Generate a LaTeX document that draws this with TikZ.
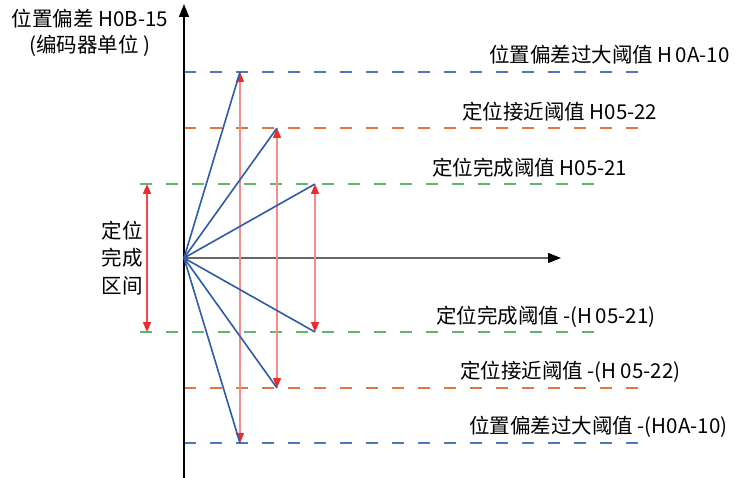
\documentclass[tikz,border=0pt]{standalone}
\usepackage{fontspec}
\setmainfont{Noto Sans CJK SC}
\usetikzlibrary{arrows.meta}
\definecolor{solidblue}{HTML}{2E5AA8}
\definecolor{dblue}{HTML}{4A78C0}
\definecolor{dorange}{HTML}{E2763A}
\definecolor{dgreen}{HTML}{5DB86A}
\definecolor{rline}{HTML}{F08C8C}
\definecolor{rtip}{HTML}{EE2A2A}
\definecolor{axisgray}{HTML}{666666}
\tikzset{
  thr/.style={dash pattern=on 12pt off 14pt, line width=1.3pt},
  ray/.style={solidblue, line width=1.6pt},
  span/.style={rline, line width=1.4pt, {Triangle[length=10pt,width=8pt,color=rtip]}-{Triangle[length=10pt,width=8pt,color=rtip]}},
  lbl/.style={anchor=west, inner sep=0pt, font=\fontsize{20.5}{27.5}\selectfont},
}
\begin{document}
\begin{tikzpicture}[x=1pt,y=-1pt]
\useasboundingbox[fill=white] (0,0) rectangle (738,478);
% key points
\coordinate (O) at (184,258);
\coordinate (ytop) at (184,4);
\coordinate (ybot) at (184,478);
\coordinate (xend) at (561,258);
\coordinate (P1) at (240,72);
\coordinate (P2) at (277,128);
\coordinate (P3) at (315,184);
\coordinate (P4) at (315,332);
\coordinate (P5) at (277,388);
\coordinate (P6) at (240,443);
\coordinate (L1) at (147,184);
\coordinate (L2) at (147,332);
% threshold lines
\coordinate (b1s) at (184,72);  \coordinate (b1e) at (645,72);
\coordinate (o1s) at (184,128); \coordinate (o1e) at (645,128);
\coordinate (g1s) at (140,184); \coordinate (g1e) at (600,184);
\coordinate (g2s) at (140,332); \coordinate (g2e) at (600,332);
\coordinate (o2s) at (184,388); \coordinate (o2e) at (645,388);
\coordinate (b2s) at (184,443); \coordinate (b2e) at (645,443);
\draw[thr, dblue] (b1s) -- (b1e);
\draw[thr, dorange] (o1s) -- (o1e);
\draw[thr, dgreen] (g1s) -- (g1e);
\draw[thr, dgreen] (g2s) -- (g2e);
\draw[thr, dorange] (o2s) -- (o2e);
\draw[thr, dblue] (b2s) -- (b2e);
% axes
\draw[axisgray, line width=1.4pt, -{Triangle[length=13pt,width=10pt,color=black]}] (O) -- (xend);
\draw[black, line width=1.4pt, -{Triangle[length=13pt,width=10pt]}] (ybot) -- (ytop);
% red spans
\draw[span] (P6) -- (P1);
\draw[span] (P5) -- (P2);
\draw[span] (P4) -- (P3);
\draw[span, draw=rtip!85!white] (L2) -- (L1);
% blue rays
\foreach \p in {P1,P2,P3,P4,P5,P6} \draw[ray] (O) -- (\p);
% labels
\node[lbl, anchor=center] (ylab1) at (90,19) {位置偏差 H0B-15};
\node[lbl, anchor=center] (ylab2) at (90,46) {(编码器单位 )};
\node[lbl] (t1) at (489,55) {位置偏差过大阈值 H\kern3pt 0A-10};
\node[lbl] (t2) at (462,112) {定位接近阈值 H05-22};
\node[lbl] (t3) at (432,168) {定位完成阈值 H05-21};
\node[lbl] (t4) at (436,317) {定位完成阈值 -(H\kern3pt 05-21)};
\node[lbl] (t5) at (460,372) {定位接近阈值 -(H\kern4pt 05-22)};
\node[lbl] (t6) at (469,427) {位置偏差过大阈值 -(H0A-10)};
\node[lbl, anchor=center, align=center] (zone) at (122,258) {定位\\完成\\区间};
\end{tikzpicture}
\end{document}
